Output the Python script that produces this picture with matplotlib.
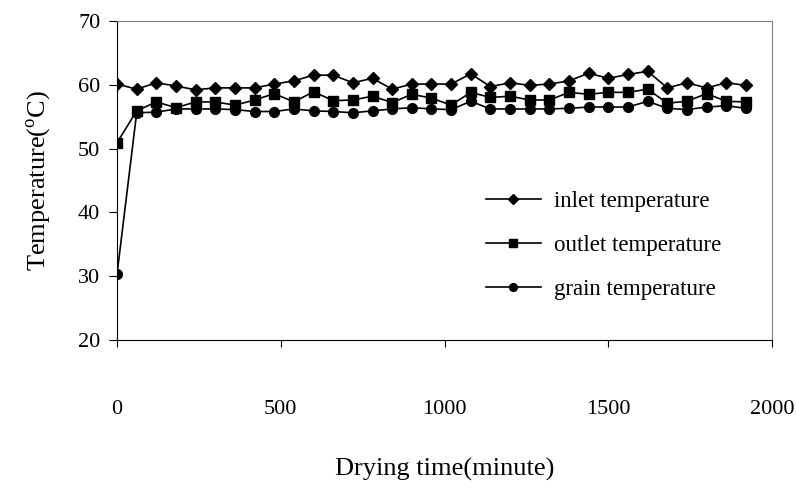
import matplotlib.pyplot as plt
import numpy as np

plt.rcParams['font.family'] = ['Liberation Serif', 'DejaVu Serif']
plt.rcParams['mathtext.fontset'] = 'custom'
plt.rcParams['mathtext.rm'] = 'Liberation Serif'

# drying time in minutes, readings every hour
time = np.arange(0, 1921, 60)

inlet = [60.1, 59.3, 60.3, 59.8, 59.2, 59.5, 59.5, 59.5, 60.1, 60.6, 61.5,
         61.5, 60.3, 61.0, 59.3, 60.1, 60.1, 60.1, 61.7, 59.7, 60.3, 59.9,
         60.1, 60.6, 61.8, 61.0, 61.6, 62.1, 59.5, 60.3, 59.5, 60.3, 59.9]
outlet = [50.9, 55.9, 57.3, 56.4, 57.3, 57.3, 56.8, 57.6, 58.6, 57.3, 58.9,
          57.5, 57.6, 58.2, 57.2, 58.5, 57.9, 56.8, 58.8, 58.0, 58.2, 57.6,
          57.6, 58.8, 58.5, 58.8, 58.8, 59.3, 57.1, 57.4, 58.6, 57.4, 57.3]
grain = [30.3, 55.6, 55.7, 56.2, 56.2, 56.2, 56.1, 55.8, 55.8, 56.2, 55.9,
         55.8, 55.6, 55.9, 56.2, 56.4, 56.2, 56.1, 57.4, 56.2, 56.2, 56.2,
         56.2, 56.3, 56.5, 56.5, 56.5, 57.4, 56.3, 56.1, 56.5, 56.7, 56.3]

fig = plt.figure(figsize=(7.96, 4.91), dpi=100)
ax = fig.add_axes([0.147, 0.3075, 0.823, 0.65])

ax.plot(time, inlet, c='black', lw=1.2, marker='D', ms=6.5, label='inlet temperature')
ax.plot(time, outlet, c='black', lw=1.2, marker='s', ms=7, label='outlet temperature')
ax.plot(time, grain, c='black', lw=1.2, marker='o', ms=7, label='grain temperature')

ax.set_xlim(0, 2000)
ax.set_ylim(20, 70)
ax.set_xticks([0, 500, 1000, 1500, 2000])
ax.set_yticks([20, 30, 40, 50, 60, 70])
ax.tick_params(axis='x', direction='out', length=5, pad=38, labelsize=16)
ax.tick_params(axis='y', direction='out', length=6, pad=6, labelsize=16)
for side in ['top', 'right']:
    ax.spines[side].set_color('#808080')

ax.set_xlabel('Drying time(minute)', fontsize=19, labelpad=28)
ax.set_ylabel('Temperature($^{\\mathrm{o}}$C)', fontsize=19, labelpad=18)

ax.legend(loc='center left', bbox_to_anchor=(0.545, 0.295), frameon=False,
          fontsize=16.5, handlelength=2.4, labelspacing=1.0, handletextpad=0.6,
          markerscale=0.8, borderpad=0)

plt.savefig('out.png', dpi=100)
